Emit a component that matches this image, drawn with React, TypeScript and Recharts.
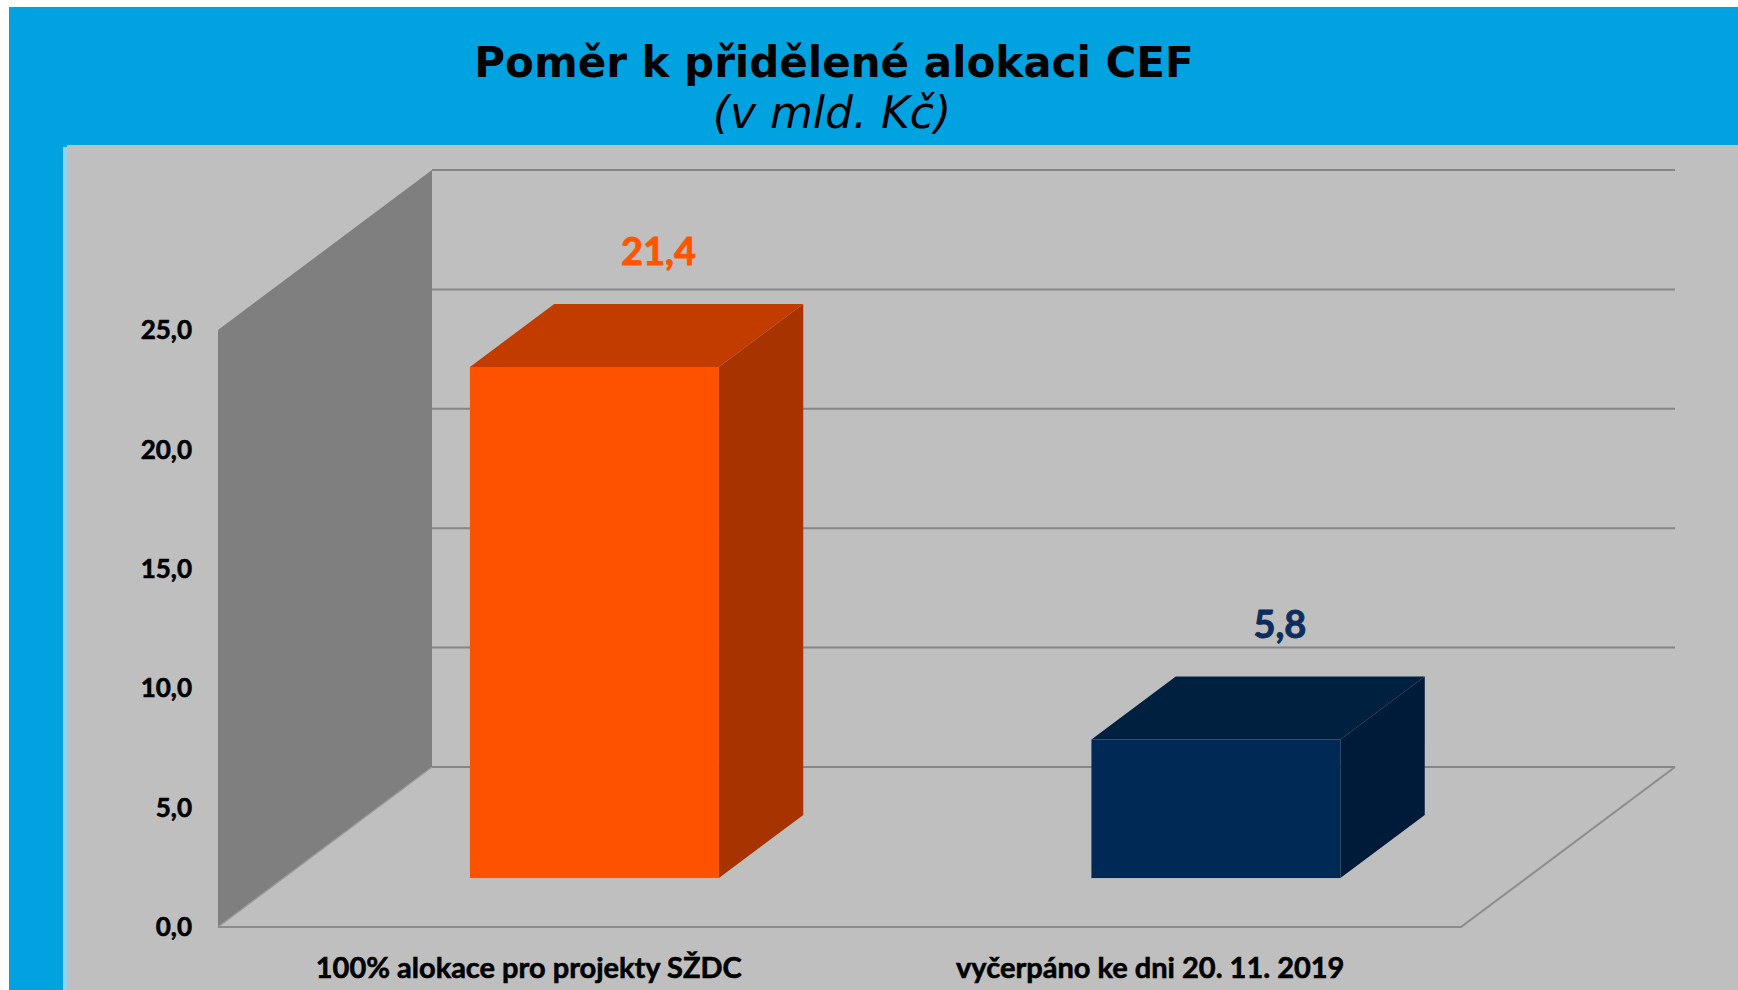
import React from "react";
import { BarChart, Bar, XAxis, YAxis, CartesianGrid, LabelList, Customized } from "recharts";

const CATEGORIES = ["100% alokace pro projekty SŽDC", "vyčerpáno ke dni 20. 11. 2019"];
const VALUES = [21.4, 5.8];
const Y_TICKS = [0, 5, 10, 15, 20, 25];

const data = CATEGORIES.map((name, i) => ({ name, value: VALUES[i] }));

const W = 1738;
const H = 990;
const MARGIN = { top: 330, right: 277, bottom: 3, left: 68 };
const Y_AXIS_W = 150;
const X_AXIS_H = 60;
const PLOT = {
  left: MARGIN.left + Y_AXIS_W,
  right: W - MARGIN.right,
  top: MARGIN.top,
  bottom: H - MARGIN.bottom - X_AXIS_H,
};

// oblique "3D" depth: back wall sits this far from the front plane
const DX = 214;
const DY = -160;
// bars start at this fraction of the depth and are this deep
const BAR_START = 0.306;
const BAR_DEPTH = 0.394;

const BAR_COLORS = [
  { front: "#FF5200", top: "#C23C00", side: "#A63300", label: "#FF5500" },
  { front: "#002955", top: "#002040", side: "#001B3A", label: "#0D2D5E" },
];

const fmt = (v: number) => v.toFixed(1).replace(".", ",");

function Box3D(props: any) {
  const { x, y, width, height, payload, index } = props;
  let i = CATEGORIES.indexOf(payload?.name);
  if (i < 0) i = index ?? 0;
  const c = BAR_COLORS[i] || BAR_COLORS[0];
  const fx = x + DX * BAR_START;
  const fy = y + DY * BAR_START;
  const bx = DX * BAR_DEPTH;
  const by = DY * BAR_DEPTH;
  return (
    <g>
      <polygon
        points={`${fx + width},${fy} ${fx + width + bx},${fy + by} ${fx + width + bx},${fy + height + by} ${fx + width},${fy + height}`}
        fill={c.side}
      />
      <polygon
        points={`${fx},${fy} ${fx + bx},${fy + by} ${fx + width + bx},${fy + by} ${fx + width},${fy}`}
        fill={c.top}
      />
      <rect x={fx} y={fy} width={width} height={height} fill={c.front} />
    </g>
  );
}

function ValueLabel(props: any) {
  const { x, y, width, value, index } = props;
  let i = index;
  if (i == null || i < 0) i = VALUES.indexOf(value);
  const c = BAR_COLORS[i] || BAR_COLORS[0];
  const cx = Number(x) + Number(width) / 2 + DX * BAR_START + 64;
  const base = Number(y) + DY * BAR_START - 102;
  return (
    <text
      x={cx}
      y={base}
      textAnchor="middle"
      fill={c.label}
      stroke={c.label}
      strokeWidth={0.9}
      fontFamily="Lato"
      fontWeight="bold"
      fontSize={38}
    >
      {fmt(Number(value))}
    </text>
  );
}

function CategoryTick(props: any) {
  const { x, y, payload } = props;
  return (
    <text
      x={x}
      y={y + 51}
      textAnchor="middle"
      fill="#000"
      stroke="#000"
      strokeWidth={0.6}
      fontFamily="Lato"
      fontWeight="bold"
      fontSize={29}
    >
      {payload.value}
    </text>
  );
}

function Walls() {
  const { left, right, top, bottom } = PLOT;
  return (
    <g>
      <polygon
        points={`${left},${top} ${left + DX},${top + DY} ${left + DX},${bottom + DY} ${left},${bottom}`}
        fill="#7F7F7F"
      />
      <line x1={left} y1={bottom} x2={left + DX} y2={bottom + DY} stroke="#9a9a9a" strokeWidth={1.5} />
      <polyline
        points={`${left},${bottom} ${right},${bottom} ${right + DX},${bottom + DY}`}
        fill="none"
        stroke="#8c8c8c"
        strokeWidth={2}
      />
    </g>
  );
}

export default function App() {
  return (
    <div style={{ position: "fixed", left: 0, top: 0, width: W, height: H, background: "#fff" }}>
      <svg width={W} height={H} style={{ position: "absolute", left: 0, top: 0 }}>
        <rect x={9} y={7} width={W - 9} height={H - 7} fill="#00A3E0" />
        <rect x={63} y={147} width={W - 63} height={H - 147} fill="#8fd3f0" />
        <rect x={67} y={145} width={W - 67} height={H - 145} fill="#BFBFBF" />
        <text x={834} y={77} textAnchor="middle" fontFamily="DejaVu Sans" fontWeight="bold" fontSize={42} fill="#000">
          Poměr k přidělené alokaci CEF
        </text>
        <text x={832} y={128} textAnchor="middle" fontFamily="DejaVu Sans" fontStyle="italic" fontSize={44} fill="#000">
          (v mld. Kč)
        </text>
      </svg>
      <div style={{ position: "absolute", left: 0, top: 0 }}>
        <BarChart width={W} height={H} data={data} margin={MARGIN} barCategoryGap="30%">
          <CartesianGrid
            vertical={false}
            horizontal={(p: any) => (
              <line
                key={`g-${p.index}-${p.y1}`}
                x1={p.x1 + DX}
                y1={p.y1 + DY}
                x2={p.x2 + DX}
                y2={p.y2 + DY}
                stroke="#868686"
                strokeWidth={2}
              />
            )}
          />
          <Customized component={Walls} />
          <XAxis
            dataKey="name"
            height={X_AXIS_H}
            axisLine={false}
            tickLine={false}
            tickSize={0}
            tickMargin={0}
            interval={0}
            tick={<CategoryTick />}
          />
          <YAxis
            width={Y_AXIS_W}
            domain={[0, 25]}
            ticks={Y_TICKS}
            axisLine={false}
            tickLine={false}
            tickSize={0}
            tickMargin={26}
            tickFormatter={(v: number) => fmt(v)}
            tick={{ fill: "#000", stroke: "#000", strokeWidth: 0.6, fontSize: 26, fontWeight: "bold", fontFamily: "Lato" }}
          />
          <Bar dataKey="value" shape={<Box3D />} isAnimationActive={false}>
            <LabelList dataKey="value" content={<ValueLabel />} />
          </Bar>
        </BarChart>
      </div>
    </div>
  );
}
